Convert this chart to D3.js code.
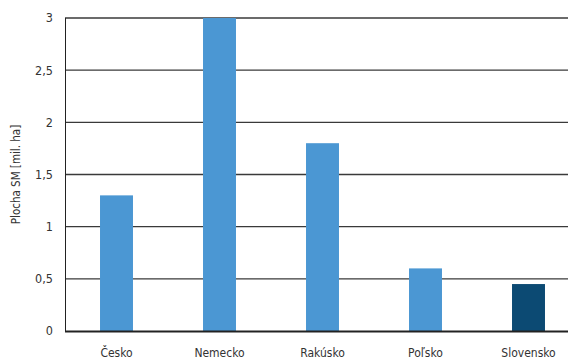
<!DOCTYPE html>
<html>
<head>
<meta charset="utf-8">
<script src="https://cdn.jsdelivr.net/npm/d3@7"></script>
<style>
  html, body { margin: 0; padding: 0; background: #fff; }
  svg text { font-family: "Liberation Sans Narrow", "DejaVu Sans Condensed", "Roboto Condensed", sans-serif; fill: #333; }
</style>
</head>
<body>
<svg id="chart" width="568" height="361"></svg>
<script>
// Forest area by country (million ha)
const countries = ["Česko", "Nemecko", "Rakúsko", "Poľsko", "Slovensko"];
const areas = [1.3, 3.0, 1.8, 0.6, 0.45];
const yTicks = [0, 0.5, 1, 1.5, 2, 2.5, 3];
const yTitle = "Plocha SM [mil. ha]";

const svg = d3.select("#chart");
const W = 568;
const plotLeft = 65, plotTop = 18, plotBottom = 331;

const x = d3.scaleBand().domain(countries).range([plotLeft, 580]).padding(0);
const y = d3.scaleLinear().domain([0, 3]).range([plotBottom, plotTop]);
const fmt = d => String(d).replace(".", ",");

// horizontal gridlines
svg.append("g").selectAll("line")
  .data(yTicks.filter(t => t > 0))
  .join("line")
  .attr("x1", plotLeft).attr("x2", W)
  .attr("y1", d => y(d)).attr("y2", d => y(d))
  .attr("stroke", "#3a3a3a").attr("stroke-width", 1.4);

// bars
const barW = x.bandwidth() * 0.32;
svg.append("g").selectAll("rect")
  .data(countries)
  .join("rect")
  .attr("x", d => x(d) + x.bandwidth() / 2 - barW / 2)
  .attr("width", barW)
  .attr("y", (d, i) => y(areas[i]))
  .attr("height", (d, i) => y(0) - y(areas[i]))
  .attr("fill", d => d === "Slovensko" ? "#0c4a73" : "#4b97d3");

// left axis line
svg.append("line")
  .attr("x1", plotLeft + 0.5).attr("x2", plotLeft + 0.5)
  .attr("y1", plotTop).attr("y2", plotBottom)
  .attr("stroke", "#222").attr("stroke-width", 1);

// baseline
svg.append("line")
  .attr("x1", plotLeft).attr("x2", W)
  .attr("y1", plotBottom + 0.5).attr("y2", plotBottom + 0.5)
  .attr("stroke", "#222").attr("stroke-width", 2);

// y tick labels
svg.append("g").selectAll("text")
  .data(yTicks)
  .join("text")
  .attr("x", 53)
  .attr("y", d => y(d))
  .attr("dy", "0.35em")
  .attr("text-anchor", "end")
  .attr("font-size", 12.5)
  .text(fmt);

// category labels
svg.append("g").selectAll("text")
  .data(countries)
  .join("text")
  .attr("x", d => x(d) + x.bandwidth() / 2)
  .attr("y", 357)
  .attr("text-anchor", "middle")
  .attr("font-size", 12)
  .text(d => d);

// y axis title
svg.append("text")
  .attr("transform", `translate(20,${(plotTop + plotBottom) / 2}) rotate(-90)`)
  .attr("text-anchor", "middle")
  .attr("font-size", 11.5)
  .text(yTitle);
</script>
</body>
</html>
